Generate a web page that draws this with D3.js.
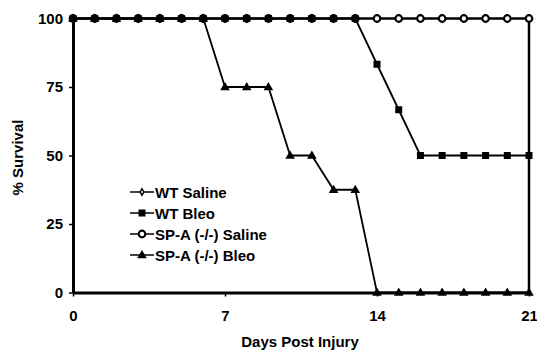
<!DOCTYPE html>
<html>
<head>
<meta charset="utf-8">
<script src="https://cdn.jsdelivr.net/npm/d3@7"></script>
<style>
  body { margin: 0; background: #fff; }
  svg { display: block; font-family: Arial, "Liberation Sans", sans-serif; }
</style>
</head>
<body>
<div id="chart"></div>
<script>
// days 0..21
const days = d3.range(0, 22);
const wtSaline = [100, 100, 100, 100, 100, 100, 100, 100, 100, 100, 100, 100, 100, 100, 100, 100, 100, 100, 100, 100, 100, 100];
const wtBleo = [100, 100, 100, 100, 100, 100, 100, 100, 100, 100, 100, 100, 100, 100, 83.3, 66.7, 50, 50, 50, 50, 50, 50];
const spaSaline = [100, 100, 100, 100, 100, 100, 100, 100, 100, 100, 100, 100, 100, 100, 100, 100, 100, 100, 100, 100, 100, 100];
const spaBleo = [100, 100, 100, 100, 100, 100, 100, 75, 75, 75, 50, 50, 37.5, 37.5, 0, 0, 0, 0, 0, 0, 0, 0];
const xTicks = [0, 7, 14, 21];
const yTicks = [0, 25, 50, 75, 100];

const width = 537, height = 351;
const margin = { top: 18.5, right: 8, bottom: 58.5, left: 73 };

const svg = d3.select('#chart')
  .append('svg')
  .attr('width', width)
  .attr('height', height);

const x = d3.scaleLinear().domain([0, 21]).range([margin.left, width - margin.right]);
const y = d3.scaleLinear().domain([0, 100]).range([height - margin.bottom, margin.top]);

// axes
const yAxis = svg.append('g')
  .attr('transform', `translate(${margin.left},0)`)
  .call(d3.axisLeft(y).tickValues(yTicks).tickSize(4).tickSizeOuter(0).tickPadding(6));

const xAxis = svg.append('g')
  .attr('transform', `translate(0,${y(0)})`)
  .call(d3.axisBottom(x).tickValues(xTicks).tickSize(4).tickSizeOuter(0).tickPadding(14));

[xAxis, yAxis].forEach((g) => {
  g.select('.domain').attr('stroke', '#000').attr('stroke-width', 3);
  g.selectAll('.tick line').attr('stroke', '#000').attr('stroke-width', 1.5);
  g.selectAll('.tick text')
    .attr('fill', '#000')
    .style('font-size', '15px')
    .style('font-weight', 'bold');
});

// right-hand line at day 21
svg.append('line')
  .attr('x1', x(21)).attr('x2', x(21))
  .attr('y1', y(100)).attr('y2', y(0))
  .attr('stroke', '#000')
  .attr('stroke-width', 2.5);

// axis titles
svg.append('text')
  .attr('x', 300)
  .attr('y', 347)
  .attr('text-anchor', 'middle')
  .style('font-size', '15px')
  .style('font-weight', 'bold')
  .text('Days Post Injury');

svg.append('text')
  .attr('transform', `translate(23,${(y(0) + y(100)) / 2 + 2}) rotate(-90)`)
  .attr('text-anchor', 'middle')
  .style('font-size', '15px')
  .style('font-weight', 'bold')
  .text('% Survival');

// marker shapes
const drawMarker = (g, type, cx, cy) => {
  if (type === 'diamond') {
    g.append('path')
      .attr('d', d3.symbol().type(d3.symbolDiamond).size(12)())
      .attr('transform', `translate(${cx},${cy})`)
      .attr('fill', '#fff').attr('stroke', '#000').attr('stroke-width', 1.5);
  } else if (type === 'square') {
    g.append('rect')
      .attr('x', cx - 3.5).attr('y', cy - 3.5)
      .attr('width', 7).attr('height', 7)
      .attr('fill', '#000');
  } else if (type === 'circle') {
    g.append('circle')
      .attr('cx', cx).attr('cy', cy).attr('r', 3.3)
      .attr('fill', '#fff').attr('stroke', '#000').attr('stroke-width', 2.2);
  } else if (type === 'triangle') {
    g.append('path')
      .attr('d', d3.symbol().type(d3.symbolTriangle).size(40)())
      .attr('transform', `translate(${cx},${cy + 0.5})`)
      .attr('fill', '#000');
  }
};

const series = [
  { name: 'WT Saline', values: wtSaline, marker: 'diamond' },
  { name: 'SP-A (-/-) Saline', values: spaSaline, marker: 'circle' },
  { name: 'SP-A (-/-) Bleo', values: spaBleo, marker: 'triangle' },
  { name: 'WT Bleo', values: wtBleo, marker: 'square' },
];

const line = d3.line()
  .x((d, i) => x(days[i]))
  .y((d) => y(d));

series.forEach((s) => {
  const g = svg.append('g');
  g.append('path')
    .datum(s.values)
    .attr('fill', 'none')
    .attr('stroke', '#000')
    .attr('stroke-width', 1.8)
    .attr('d', line);
  s.values.forEach((v, i) => drawMarker(g, s.marker, x(days[i]), y(v)));
});

// legend
const legendOrder = ['WT Saline', 'WT Bleo', 'SP-A (-/-) Saline', 'SP-A (-/-) Bleo'];
const legend = svg.append('g').attr('transform', 'translate(130,192)');
legendOrder.forEach((name, i) => {
  const s = series.find((d) => d.name === name);
  const row = legend.append('g').attr('transform', `translate(0,${i * 21})`);
  row.append('line')
    .attr('x1', 0).attr('x2', 24)
    .attr('y1', 0).attr('y2', 0)
    .attr('stroke', '#000').attr('stroke-width', 1.5);
  drawMarker(row, s.marker, 12, 0);
  row.append('text')
    .attr('x', 25)
    .attr('y', 5.5)
    .style('font-size', '15px')
    .style('font-weight', 'bold')
    .text(name);
});
</script>
</body>
</html>
